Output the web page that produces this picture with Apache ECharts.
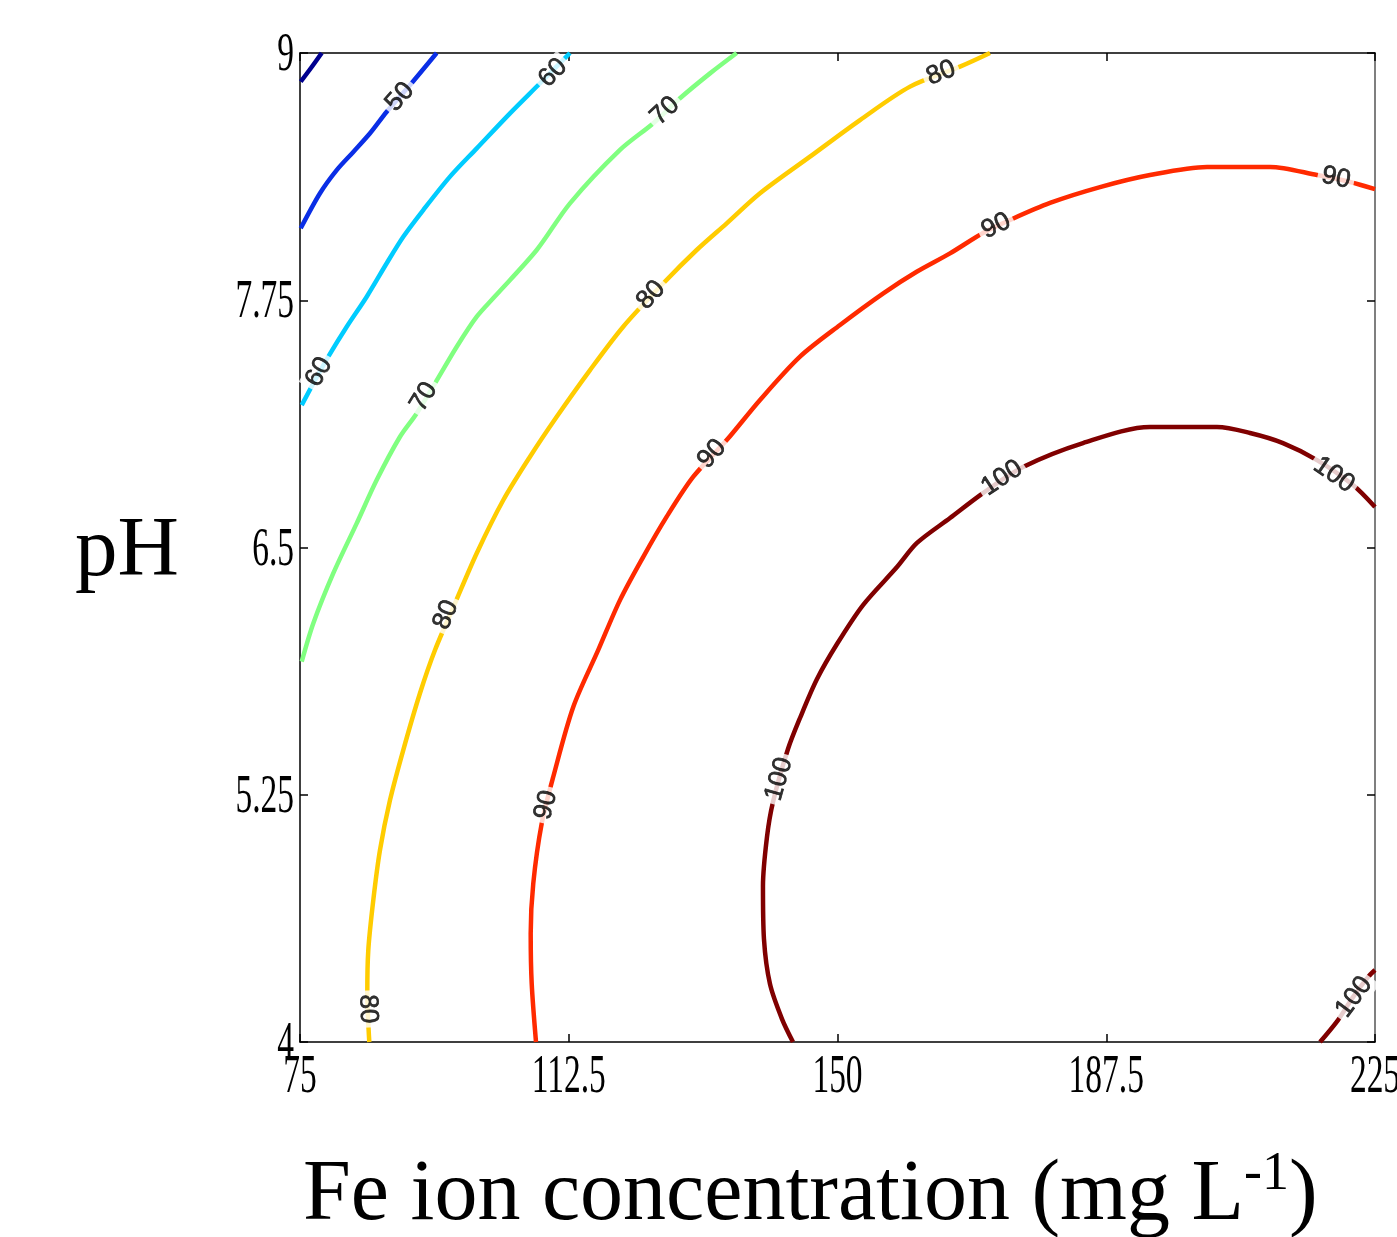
<!DOCTYPE html>
<html>
<head>
<meta charset="utf-8">
<script src="https://cdn.jsdelivr.net/npm/echarts@6/dist/echarts.min.js"></script>
<style>
  html, body { margin: 0; padding: 0; background: #fff; }
  #chart { width: 1397px; height: 1237px; }
</style>
</head>
<body>
<div id="chart"></div>
<script>
// tick values of both axes
const xTicks = [75, 112.5, 150, 187.5, 225];
const yTicks = [4, 5.25, 6.5, 7.75, 9];

// contour lines, [Fe ion mg/L, pH]
const c40 = [[75.1, 8.855], [76.53, 8.924], [78.03, 9.0]];
const c50 = [[75.1, 8.114], [77.79, 8.291], [80.12, 8.408], [82.44, 8.5], [84.77, 8.594],
  [87.1, 8.703], [90.35, 8.838], [94.07, 9.0]];
const c60 = [[75.24, 7.22], [76.86, 7.33], [78.95, 7.465], [81.52, 7.616], [84.31, 7.768],
  [87.1, 7.937], [89.41, 8.071], [92.2, 8.206], [95.93, 8.375], [99.66, 8.518],
  [104.3, 8.695], [108.49, 8.847], [112.67, 9.0]];
const c70 = [[75.24, 5.923], [76.86, 6.117], [79.65, 6.37], [82.91, 6.622], [85.7, 6.841],
  [88.95, 7.06], [91.28, 7.178], [93.84, 7.33], [96.87, 7.515], [99.66, 7.667],
  [102.21, 7.77], [108.03, 8.004], [112.67, 8.24], [119.65, 8.51], [124.3, 8.645],
  [128.02, 8.771], [132.21, 8.897], [135.93, 9.0]];
const c80 = [[84.67, 4.0], [84.39, 4.246], [84.53, 4.465], [85.23, 4.718], [86.16, 4.97],
  [87.56, 5.223], [89.41, 5.476], [91.74, 5.763], [93.84, 5.982], [96.63, 6.218],
  [99.66, 6.471], [103.37, 6.74], [107.09, 6.959], [110.82, 7.161], [115.47, 7.397],
  [120.07, 7.615], [125.7, 7.836], [130.35, 8.004], [134.54, 8.139], [139.19, 8.291],
  [146.16, 8.476], [153.14, 8.661], [160.12, 8.83], [167.09, 8.931], [171.28, 9.0]];
const c90 = [[107.93, 4.0], [107.33, 4.296], [107.19, 4.549], [107.55, 4.802], [108.73, 5.105],
  [110.34, 5.341], [113.14, 5.695], [116.62, 5.982], [119.65, 6.234], [122.9, 6.453],
  [126.17, 6.656], [129.88, 6.858], [134.54, 7.043], [139.19, 7.246], [144.77, 7.465],
  [150.35, 7.625], [156.39, 7.785], [161.05, 7.894], [165.7, 7.987], [170.3, 8.09],
  [174.07, 8.156], [179.65, 8.242], [186.63, 8.322], [193.6, 8.383], [201.56, 8.424],
  [210.35, 8.424], [216.91, 8.383], [221.51, 8.348], [225.0, 8.312]];
const c100 = [[143.79, 4.0], [142.26, 4.116], [140.58, 4.293], [139.74, 4.52], [139.6, 4.788],
  [140.16, 5.036], [141.0, 5.213], [143.09, 5.481], [144.77, 5.638], [147.14, 5.835],
  [149.93, 6.012], [153.56, 6.209], [158.3, 6.401], [161.09, 6.523], [165.7, 6.649],
  [170.3, 6.775], [175.88, 6.907], [184.26, 7.028], [193.6, 7.109], [202.95, 7.109],
  [207.56, 7.079], [212.16, 7.028], [216.91, 6.942], [221.93, 6.816], [225.0, 6.705]];
const c100b = [[217.33, 4.0], [219.84, 4.111], [221.93, 4.227], [224.02, 4.328], [225.0, 4.364]];

// inline contour labels: [x, y, level]
const contourLabels = [
  [88.95, 8.778, 50], [110.3, 8.899, 60], [77.65, 7.387, 60],
  [92.3, 7.261, 70], [125.93, 8.707, 70],
  [84.49, 4.167, 80], [95.37, 6.159, 80], [123.98, 7.776, 80], [164.44, 8.899, 80],
  [109.33, 5.198, 90], [132.49, 6.973, 90], [172.12, 8.125, 90], [219.56, 8.368, 90],
  [141.84, 5.329, 100], [172.95, 6.851, 100], [219.28, 6.867, 100], [222.07, 4.227, 100]
];

const contours = [
  { level: 40, data: c40 }, { level: 50, data: c50 }, { level: 60, data: c60 },
  { level: 70, data: c70 }, { level: 80, data: c80 }, { level: 90, data: c90 },
  { level: 100, data: c100 }, { level: 100, data: c100b }
];
const levelColor = {
  40: '#00008f', 50: '#0a2ee6', 60: '#00ccff', 70: '#80ff80',
  80: '#ffcc00', 90: '#ff2a00', 100: '#800000'
};

const chart = echarts.init(document.getElementById('chart'));

const axisLine = c => ({ show: true, lineStyle: { color: c, width: 1.5 } });
const tick = { show: true, inside: true, length: 8, lineStyle: { color: '#000', width: 1.5 } };

const series = contours.map(c => ({
  type: 'line',
  data: c.data,
  showSymbol: false,
  smooth: 0.3,
  lineStyle: { color: levelColor[c.level], width: 4.5 },
  z: 2
}));
series.push({
  type: 'scatter',
  symbolSize: 2,
  itemStyle: { color: 'rgba(0,0,0,0)' },
  z: 5,
  label: {
    show: true,
    position: 'inside',
    formatter: p => String(p.value[2]),
    fontFamily: '"Liberation Sans", Arial, sans-serif',
    fontSize: 26,
    color: '#000',
    textBorderWidth: 0.7,
    textBorderColor: '#000',
    backgroundColor: '#fff',
    padding: [0, 4]
  },
  labelLayout: { hideOverlap: false },
  data: contourLabels.map(l => ({ value: l }))
});

chart.setOption({
  animation: false,
  backgroundColor: '#fff',
  grid: { left: 300, right: 22, top: 53, bottom: 195 },
  xAxis: [
    { type: 'value', position: 'bottom', min: 75, max: 225, interval: 37.5,
      axisLine: axisLine('#000'), axisTick: tick, axisLabel: { show: false }, splitLine: { show: false } },
    { type: 'value', position: 'top', min: 75, max: 225, interval: 37.5,
      axisLine: axisLine('#000'), axisTick: tick, axisLabel: { show: false }, splitLine: { show: false } }
  ],
  yAxis: [
    { type: 'value', position: 'left', min: 4, max: 9, interval: 1.25,
      axisLine: axisLine('#000'), axisTick: Object.assign({ customValues: yTicks }, tick),
      axisLabel: { show: false }, splitLine: { show: false } },
    { type: 'value', position: 'right', min: 4, max: 9, interval: 1.25,
      axisLine: axisLine('#555'), axisTick: Object.assign({ customValues: yTicks }, tick),
      axisLabel: { show: false }, splitLine: { show: false } }
  ],
  series: series
});

// label angles follow the contour they sit on
function labelAngle(lab) {
  const p = chart.convertToPixel({ gridIndex: 0 }, [lab[0], lab[1]]);
  let best = Infinity, dir = [1, 0];
  contours.filter(c => c.level === lab[2]).forEach(c => {
    const pts = c.data.map(d => chart.convertToPixel({ gridIndex: 0 }, d));
    for (let i = 0; i < pts.length - 1; i++) {
      const a = pts[i], b = pts[i + 1];
      const dx = b[0] - a[0], dy = b[1] - a[1];
      const len2 = dx * dx + dy * dy || 1;
      let t = ((p[0] - a[0]) * dx + (p[1] - a[1]) * dy) / len2;
      t = Math.max(0, Math.min(1, t));
      const qx = a[0] + t * dx - p[0], qy = a[1] + t * dy - p[1];
      const d = qx * qx + qy * qy;
      if (d < best) { best = d; dir = [dx, dy]; }
    }
  });
  let ang = -Math.atan2(dir[1], dir[0]) * 180 / Math.PI;
  if (ang > 90) ang -= 180;
  if (ang <= -90) ang += 180;
  return ang;
}

const labelData = contourLabels.map(l => ({ value: l, label: { rotate: labelAngle(l) } }));

const serif = '"Liberation Serif", "Times New Roman", serif';
const graphics = [];
xTicks.forEach(v => {
  graphics.push({
    type: 'text', x: chart.convertToPixel({ xAxisIndex: 0 }, v), y: 1078, scaleX: 0.62,
    style: { text: String(v), fontFamily: serif, fontSize: 54, fill: '#000',
      align: 'center', verticalAlign: 'middle', textAlign: 'center', textVerticalAlign: 'middle' }
  });
});
yTicks.forEach(v => {
  graphics.push({
    type: 'text', x: 294, y: chart.convertToPixel({ yAxisIndex: 0 }, v) + 3, scaleX: 0.62,
    style: { text: String(v), fontFamily: serif, fontSize: 54, fill: '#000',
      align: 'right', verticalAlign: 'middle', textAlign: 'right', textVerticalAlign: 'middle' }
  });
});
graphics.push({
  type: 'text', x: 75, y: 553,
  style: { text: 'pH', fontFamily: serif, fontSize: 85, fill: '#000',
    align: 'left', verticalAlign: 'middle', textAlign: 'left', textVerticalAlign: 'middle' }
});
graphics.push({
  type: 'text', x: 303, y: 1196,
  style: {
    text: 'Fe ion concentration (mg L{sup|-1})',
    fontFamily: serif, fontSize: 86, fill: '#000', lineHeight: 96,
    align: 'left', verticalAlign: 'middle', textAlign: 'left', textVerticalAlign: 'middle',
    rich: { sup: { fontFamily: serif, fontSize: 54, lineHeight: 96, verticalAlign: 'top', fill: '#000' } }
  }
});

const labelSeries = series[series.length - 1];
labelSeries.data = labelData;
chart.setOption({ series: series, graphic: graphics });
</script>
</body>
</html>
